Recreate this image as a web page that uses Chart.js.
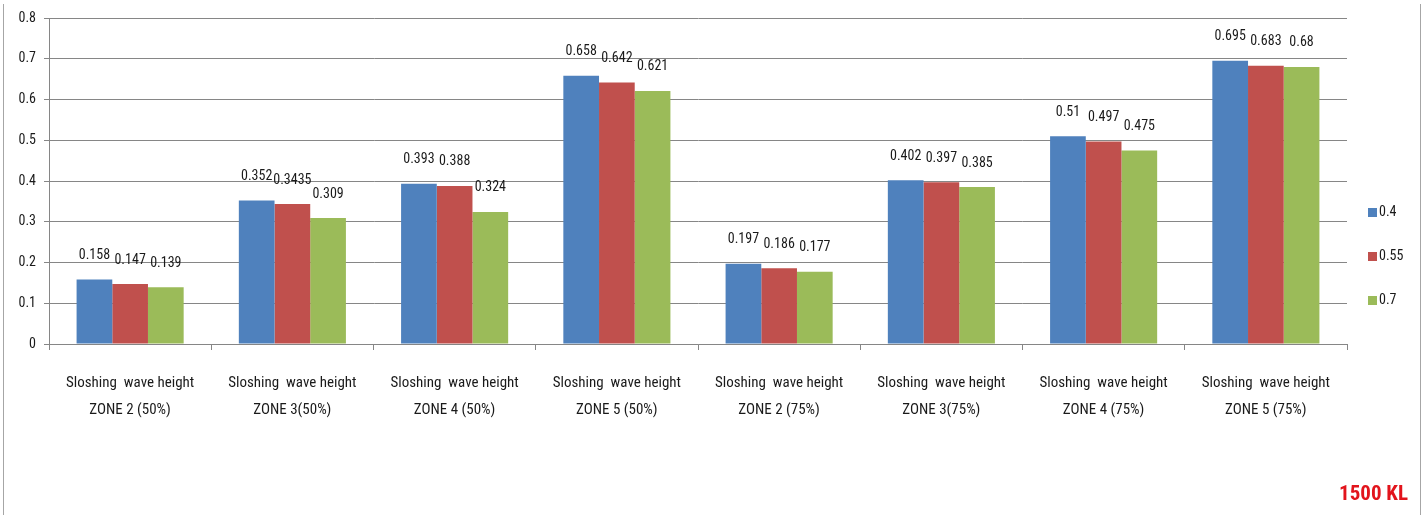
<!DOCTYPE html>
<html>
<head>
<meta charset="utf-8">
<script src="https://cdn.jsdelivr.net/npm/chart.js@4.4.1/dist/chart.umd.min.js"></script>
<style>
  html, body { margin: 0; padding: 0; background: #fff; }
  #wrap { position: relative; width: 1424px; height: 515px; }
  #frameL, #frameR { position: absolute; top: 4px; bottom: 0; width: 1px; background: #a6a6a6; }
  #frameL { left: 3px; }
  #frameR { left: 1420px; }
</style>
</head>
<body>
<div id="wrap">
  <canvas id="chart" width="1424" height="515"></canvas>
  <div id="frameL"></div>
  <div id="frameR"></div>
</div>
<script>
// Categories (two-line axis labels)
const categories = [
  ['Sloshing  wave height', 'ZONE 2 (50%)'],
  ['Sloshing  wave height', 'ZONE 3(50%)'],
  ['Sloshing  wave height', 'ZONE 4 (50%)'],
  ['Sloshing  wave height', 'ZONE 5 (50%)'],
  ['Sloshing  wave height', 'ZONE 2 (75%)'],
  ['Sloshing  wave height', 'ZONE 3(75%)'],
  ['Sloshing  wave height', 'ZONE 4 (75%)'],
  ['Sloshing  wave height', 'ZONE 5 (75%)']
];

// Series
const seriesNames = ['0.4', '0.55', '0.7'];
const values04  = [0.158, 0.352, 0.393, 0.658, 0.197, 0.402, 0.51, 0.695];
const values055 = [0.147, 0.3435, 0.388, 0.642, 0.186, 0.397, 0.497, 0.683];
const values07  = [0.139, 0.309, 0.324, 0.621, 0.177, 0.385, 0.475, 0.68];

// Y axis range
const yMin = 0;
const yMax = 0.8;
const yStep = 0.1;

const FONT = "'Liberation Sans Narrow', 'Arial Narrow', 'Roboto Condensed', sans-serif";
const colors = ['#4f81bd', '#c0504d', '#9bbb59'];

// Value labels above each bar
const valueLabels = {
  id: 'valueLabels',
  afterDatasetsDraw(chart) {
    const ctx = chart.ctx;
    ctx.save();
    ctx.font = '14px ' + FONT;
    ctx.fillStyle = '#1a1a1a';
    ctx.textAlign = 'center';
    ctx.textBaseline = 'bottom';
    chart.data.datasets.forEach((ds, i) => {
      const meta = chart.getDatasetMeta(i);
      meta.data.forEach((bar, j) => {
        ctx.fillText(String(ds.data[j]), bar.x, bar.y - 17);
      });
    });
    ctx.restore();
  }
};

// Series key to the right of the plot, vertically centred
const sideLegend = {
  id: 'sideLegend',
  afterDraw(chart) {
    const ctx = chart.ctx;
    const ds = chart.data.datasets;
    const gap = 44;
    const midY = chart.height / 2;
    const x0 = chart.chartArea.right + 21;
    ctx.save();
    ctx.font = '14px ' + FONT;
    ctx.textAlign = 'left';
    ctx.textBaseline = 'middle';
    ds.forEach((d, i) => {
      const y = midY + (i - (ds.length - 1) / 2) * gap - 1;
      ctx.fillStyle = d.backgroundColor;
      ctx.fillRect(x0, y - 4.5, 9, 9);
      ctx.fillStyle = '#1a1a1a';
      ctx.fillText(d.label, x0 + 11, y);
    });
    ctx.restore();
  }
};

// Capacity caption in the lower right corner
const caption = {
  id: 'caption',
  afterDraw(chart) {
    const ctx = chart.ctx;
    ctx.save();
    ctx.font = 'bold 21px ' + FONT;
    ctx.fillStyle = '#e2141c';
    ctx.textAlign = 'right';
    ctx.textBaseline = 'alphabetic';
    ctx.fillText('1500 KL', 1408, 500);
    ctx.restore();
  }
};

new Chart(document.getElementById('chart'), {
  type: 'bar',
  data: {
    labels: categories,
    datasets: [
      { label: seriesNames[0], data: values04,  backgroundColor: colors[0] },
      { label: seriesNames[1], data: values055, backgroundColor: colors[1] },
      { label: seriesNames[2], data: values07,  backgroundColor: colors[2] }
    ]
  },
  options: {
    responsive: false,
    animation: false,
    layout: { padding: { top: 18, left: 0, right: 77, bottom: 0 } },
    datasets: {
      bar: { categoryPercentage: 0.66, barPercentage: 1.0, borderWidth: 0 }
    },
    plugins: {
      legend: { display: false },
      tooltip: { enabled: false }
    },
    scales: {
      x: {
        grid: {
          offset: true,
          drawOnChartArea: false,
          drawTicks: true,
          tickLength: 6,
          color: '#868686'
        },
        border: { color: '#868686', width: 1 },
        ticks: {
          color: '#1a1a1a',
          padding: 20,
          maxRotation: 0,
          autoSkip: false,
          font: { family: FONT, size: 15, lineHeight: 1.8 }
        },
        afterFit(scale) { scale.height = 171; }
      },
      y: {
        min: yMin,
        max: yMax,
        grid: {
          color: '#868686',
          tickLength: 5,
          drawTicks: true
        },
        border: { color: '#868686', width: 1 },
        ticks: {
          stepSize: yStep,
          color: '#1a1a1a',
          padding: 8,
          font: { family: FONT, size: 14 },
          callback: (v) => (v === 0 ? '0' : Number(v).toFixed(1))
        },
        afterFit(scale) { scale.width = 49; }
      }
    }
  },
  plugins: [valueLabels, sideLegend, caption]
});
</script>
</body>
</html>
